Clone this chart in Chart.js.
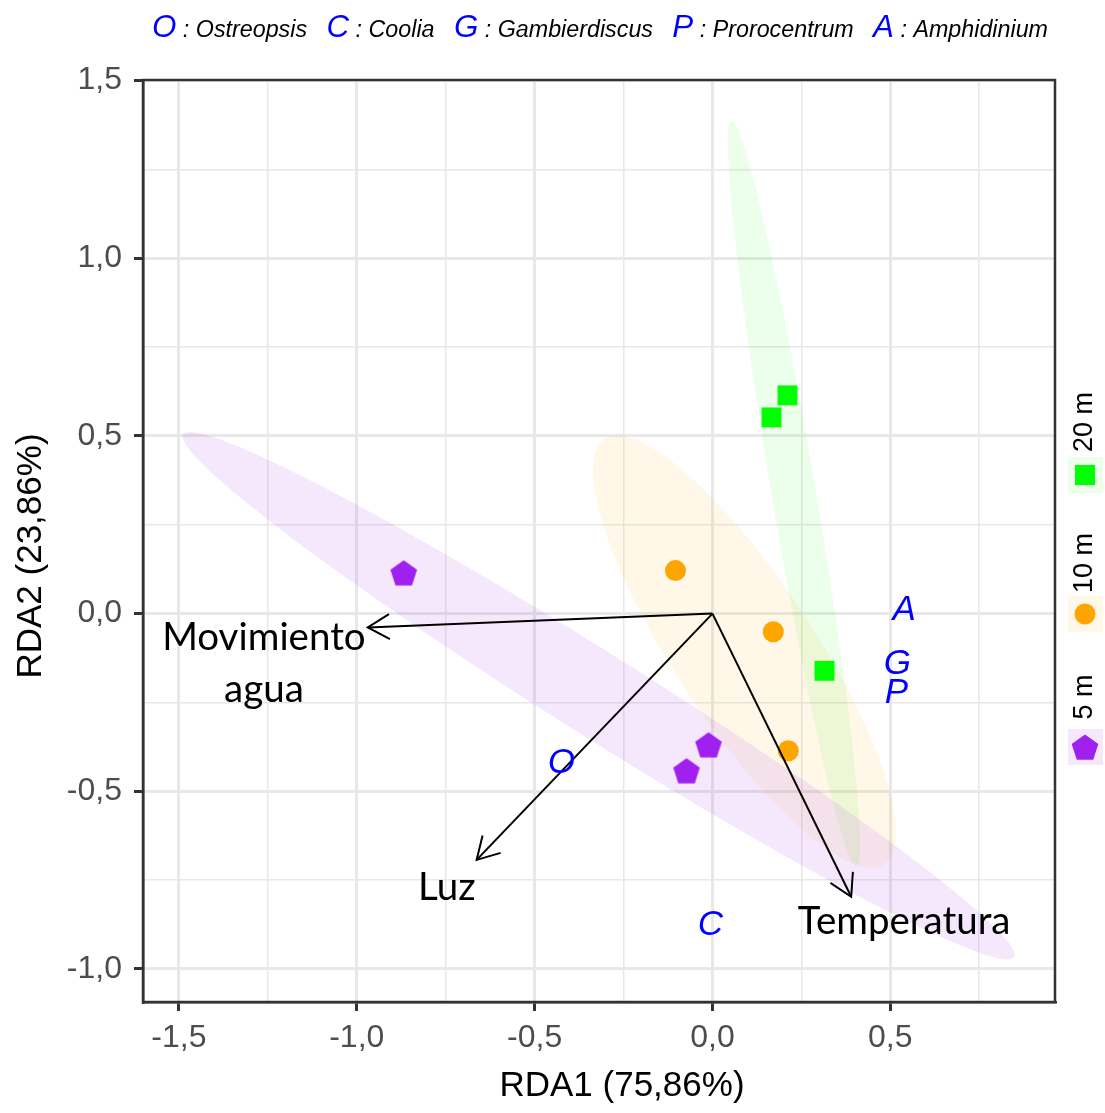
<!DOCTYPE html>
<html lang="es">
<head>
<meta charset="UTF-8">
<title>RDA</title>
<script src="https://cdn.jsdelivr.net/npm/chart.js@4.4.1/dist/chart.umd.min.js"></script>
<style>
  html, body { margin: 0; padding: 0; background: #fff; }
</style>
</head>
<body>
<canvas id="rda" width="1105" height="1113"></canvas>
<script>
// site scores by depth (RDA1, RDA2)
let depth20x = [0.211, 0.166, 0.315];
let depth20y = [0.614, 0.552, -0.161];
let depth10x = [-0.104, 0.171, 0.213];
let depth10y = [0.121, -0.051, -0.386];
let depth5x = [-0.868, -0.011, -0.073];
let depth5y = [0.115, -0.369, -0.442];

// environmental vectors and where their labels sit
let envNames = ['Movimiento agua', 'Luz', 'Temperatura'];
let envX = [-0.969, -0.663, 0.390];
let envY = [-0.039, -0.693, -0.797];
let envLabelX = [-1.261, -0.747, 0.539];
let envLabelY = [-0.141, -0.772, -0.868];

// genus scores
let genusLetters = ['O', 'C', 'G', 'P', 'A'];
let genusNames = ['Ostreopsis', 'Coolia', 'Gambierdiscus', 'Prorocentrum', 'Amphidinium'];
let genusX = [-0.425, -0.006, 0.520, 0.517, 0.539];
let genusY = [-0.420, -0.876, -0.144, -0.225, 0.008];

// group ellipses: 20 m, 10 m, 5 m
let ellCX = [0.229, 0.090, -0.320];
let ellCY = [0.337, -0.107, -0.231];
let ellA = [1.064, 0.716, 1.380];
let ellB = [0.062, 0.197, 0.118];
let ellAngle = [-80.5, -56.7, -32.2];

let groups = ['20 m', '10 m', '5 m'];
let xTicks = [-1.5, -1.0, -0.5, 0.0, 0.5];
let xMinor = [-1.25, -0.75, -0.25, 0.25, 0.75];
let yTicks = [-1.0, -0.5, 0.0, 0.5, 1.0, 1.5];
let yMinor = [-0.75, -0.25, 0.25, 0.75, 1.25];

const colors = ['#00ff00', '#ffa500', '#a020f0'];
const fills = ['rgba(0,255,0,0.08)', 'rgba(255,165,0,0.09)', 'rgba(160,32,240,0.1)'];

function pts(xs, ys) { return xs.map((x, i) => ({ x: x, y: ys[i] })); }
function isMajor(list, v) { return list.some(t => Math.abs(t - v) < 1e-6); }
function fmt(v) { return v.toFixed(1).replace('.', ','); }

function pentagon(color, r) {
    const s = Math.ceil(2 * r + 2);
    const c = document.createElement('canvas');
    c.width = s; c.height = s;
    const g = c.getContext('2d');
    g.fillStyle = color;
    g.beginPath();
    for (let i = 0; i < 5; i++) {
        const a = -Math.PI / 2 + i * 2 * Math.PI / 5;
        const px = s / 2 + r * Math.cos(a), py = s / 2 + r * Math.sin(a) + r * 0.1;
        if (i) g.lineTo(px, py); else g.moveTo(px, py);
    }
    g.closePath();
    g.fill();
    return c;
}
const penta = pentagon(colors[2], 14);

const decor = {
    id: 'decor',
    beforeDatasetsDraw(chart) {
        const { ctx, scales: { x, y } } = chart;
        ctx.save();
        ctx.beginPath();
        ctx.rect(chart.chartArea.left, chart.chartArea.top, chart.chartArea.width, chart.chartArea.height);
        ctx.clip();
        for (let k = 0; k < ellCX.length; k++) {
            const th = ellAngle[k] * Math.PI / 180;
            ctx.beginPath();
            for (let i = 0; i <= 180; i++) {
                const t = i / 180 * 2 * Math.PI;
                const dx = ellA[k] * Math.cos(t) * Math.cos(th) - ellB[k] * Math.sin(t) * Math.sin(th);
                const dy = ellA[k] * Math.cos(t) * Math.sin(th) + ellB[k] * Math.sin(t) * Math.cos(th);
                const px = x.getPixelForValue(ellCX[k] + dx), py = y.getPixelForValue(ellCY[k] + dy);
                if (i) ctx.lineTo(px, py); else ctx.moveTo(px, py);
            }
            ctx.closePath();
            ctx.fillStyle = fills[k];
            ctx.fill();
        }
        ctx.restore();
    },
    afterDatasetsDraw(chart) {
        const { ctx, scales: { x, y } } = chart;
        ctx.save();
        // arrow heads
        ctx.strokeStyle = '#000';
        ctx.lineWidth = 2;
        const x0 = x.getPixelForValue(0), y0 = y.getPixelForValue(0);
        envX.forEach((ex, i) => {
            const tx = x.getPixelForValue(ex), ty = y.getPixelForValue(envY[i]);
            const ang = Math.atan2(y0 - ty, x0 - tx);
            const L = 25, sp = Math.PI / 6;
            ctx.beginPath();
            ctx.moveTo(tx + L * Math.cos(ang - sp), ty + L * Math.sin(ang - sp));
            ctx.lineTo(tx, ty);
            ctx.lineTo(tx + L * Math.cos(ang + sp), ty + L * Math.sin(ang + sp));
            ctx.stroke();
        });
        // environmental labels
        ctx.fillStyle = '#000';
        ctx.font = '38.5px Lato';
        ctx.textAlign = 'center';
        ctx.textBaseline = 'middle';
        envNames.forEach((n, i) => {
            const px = x.getPixelForValue(envLabelX[i]), py = y.getPixelForValue(envLabelY[i]);
            const lines = n === 'Movimiento agua' ? ['Movimiento', 'agua'] : [n];
            lines.forEach((l, j) => ctx.fillText(l, px, py + (j - (lines.length - 1) / 2) * 52));
        });
        // genus letters
        ctx.fillStyle = '#0000ff';
        ctx.font = 'italic 35px "Liberation Sans"';
        genusLetters.forEach((g, i) => {
            ctx.fillText(g, x.getPixelForValue(genusX[i]), y.getPixelForValue(genusY[i]));
        });
        ctx.restore();
    },
    afterDraw(chart) {
        const { ctx, chartArea: a } = chart;
        ctx.save();
        ctx.strokeStyle = '#333';
        ctx.lineWidth = 2.5;
        ctx.strokeRect(a.left, a.top, a.width, a.height);

        // axis titles
        ctx.fillStyle = '#000';
        ctx.font = '35px "Liberation Sans"';
        ctx.textAlign = 'center';
        ctx.textBaseline = 'middle';
        ctx.fillText('RDA1 (75,86%)', 622, 1086);
        ctx.save();
        ctx.translate(31, 556);
        ctx.rotate(-Math.PI / 2);
        ctx.fillText('RDA2 (23,86%)', 0, 0);
        ctx.restore();

        // top legend of genus letters
        const parts = [];
        genusLetters.forEach((g, i) => {
            parts.push({ t: g, f: 'italic 31px "Liberation Sans"', c: '#0000ff' });
            parts.push({ t: ' : ', f: 'italic 23px "Liberation Sans"', c: '#000' });
            parts.push({ t: genusNames[i], f: 'italic 23px "Liberation Sans"', c: '#000' });
            if (i < genusLetters.length - 1) parts.push({ t: '   ', f: 'italic 23px "Liberation Sans"', c: '#000' });
        });
        let total = 0;
        parts.forEach(p => { ctx.font = p.f; p.w = ctx.measureText(p.t).width; total += p.w; });
        const sx = 896 / total;
        ctx.save();
        ctx.translate(152, 0);
        ctx.scale(sx, 1);
        ctx.textBaseline = 'alphabetic';
        ctx.textAlign = 'left';
        let cx = 0;
        parts.forEach(p => { ctx.font = p.f; ctx.fillStyle = p.c; ctx.fillText(p.t, cx, 37); cx += p.w; });
        ctx.restore();

        // right legend of depth groups
        const textY = [422, 563, 697];
        const keyY = [475, 614, 747];
        groups.forEach((g, i) => {
            ctx.fillStyle = fills[i];
            ctx.fillRect(1068, keyY[i] - 18, 35, 36);
            ctx.fillStyle = colors[i];
            if (i === 0) ctx.fillRect(1075, keyY[i] - 10, 20, 20);
            else if (i === 1) { ctx.beginPath(); ctx.arc(1085, keyY[i], 10.5, 0, 2 * Math.PI); ctx.fill(); }
            else ctx.drawImage(penta, 1085 - penta.width / 2, keyY[i] - penta.height / 2);
            ctx.save();
            ctx.translate(1085, textY[i]);
            ctx.rotate(-Math.PI / 2);
            ctx.fillStyle = '#000';
            ctx.font = '27px "Liberation Sans"';
            ctx.textAlign = 'center';
            ctx.textBaseline = 'middle';
            ctx.fillText(g, 0, 0);
            ctx.restore();
        });
        ctx.restore();
    }
};

const gridOpts = (list) => ({
    color: '#e8e8e8',
    lineWidth: c => isMajor(list, c.tick.value) ? 3 : 1.5,
    tickColor: c => isMajor(list, c.tick.value) ? '#333' : 'rgba(0,0,0,0)',
    tickWidth: 3,
    tickLength: 9
});

new Chart(document.getElementById('rda'), {
    type: 'scatter',
    data: {
        datasets: [
            { label: groups[0], data: pts(depth20x, depth20y), pointStyle: 'rect', pointRadius: 14.1, backgroundColor: colors[0], pointBorderWidth: 0, order: 2 },
            { label: groups[1], data: pts(depth10x, depth10y), pointStyle: 'circle', pointRadius: 10.5, backgroundColor: colors[1], pointBorderWidth: 0, order: 2 },
            { label: groups[2], data: pts(depth5x, depth5y), pointStyle: penta, pointRadius: 14, backgroundColor: colors[2], pointBorderWidth: 0, order: 2 }
        ].concat(envNames.map((n, i) => ({
            label: n,
            data: [{ x: 0, y: 0 }, { x: envX[i], y: envY[i] }],
            showLine: true, borderColor: '#000', borderWidth: 2, pointRadius: 0, order: 1
        })))
    },
    options: {
        responsive: false,
        animation: false,
        events: [],
        layout: { padding: { top: 80, right: 50, left: 0, bottom: 0 } },
        plugins: { legend: { display: false }, tooltip: { enabled: false } },
        scales: {
            x: {
                type: 'linear', min: -1.601, max: 0.963,
                afterBuildTicks: s => { s.ticks = xTicks.concat(xMinor).sort((a, b) => a - b).map(v => ({ value: v })); },
                afterFit: s => { s.height = 111; },
                grid: gridOpts(xTicks),
                border: { display: true, color: '#333', width: 2.5 },
                ticks: {
                    autoSkip: false, maxRotation: 0, padding: 8,
                    color: '#4d4d4d', font: { family: 'Liberation Sans', size: 32 },
                    callback: v => isMajor(xTicks, v) ? fmt(v) : ''
                }
            },
            y: {
                type: 'linear', min: -1.093, max: 1.5015,
                afterBuildTicks: s => { s.ticks = yTicks.concat(yMinor).sort((a, b) => a - b).map(v => ({ value: v })); },
                afterFit: s => { s.width = 143; },
                grid: gridOpts(yTicks),
                border: { display: true, color: '#333', width: 2.5 },
                ticks: {
                    autoSkip: false, padding: 12,
                    color: '#4d4d4d', font: { family: 'Liberation Sans', size: 32 },
                    callback: v => isMajor(yTicks, v) ? fmt(v) : ''
                }
            }
        }
    },
    plugins: [decor]
});
</script>
</body>
</html>
